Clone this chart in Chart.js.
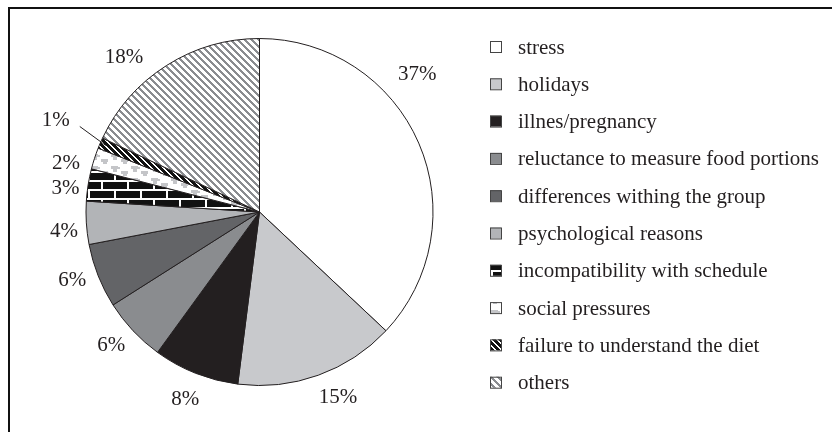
<!DOCTYPE html>
<html lang="en">
<head>
    <meta charset="UTF-8">
    <title>Reasons for dropping out of the diet</title>
    <script src="https://cdn.jsdelivr.net/npm/chart.js"></script>
    <style>
        body {
            margin: 0;
            background: #fff;
        }
        .frame {
            position: absolute;
            left: 8px;
            top: 7px;
            width: 840px;
            height: 440px;
            border-top: 2px solid #111;
            border-left: 2px solid #111;
        }
        .chart-box {
            position: absolute;
            left: 10px;
            top: 9px;
            width: 822px;
            height: 423px;
        }
    </style>
</head>
<body>
    <div class="frame"></div>
    <div class="chart-box">
        <canvas id="pieChart"></canvas>
    </div>

    <script>
        // data
        const categories = [
            'stress',
            'holidays',
            'illnes/pregnancy',
            'reluctance to measure food portions',
            'differences withing the group',
            'psychological reasons',
            'incompatibility with schedule',
            'social pressures',
            'failure to understand the diet',
            'others'
        ];
        const percentages = [37, 15, 8, 6, 6, 4, 3, 2, 1, 18];

        // little tiles for the hatched slices
        function makeTile(w, h, draw) {
            const c = document.createElement('canvas');
            c.width = w;
            c.height = h;
            draw(c.getContext('2d'));
            return c.getContext('2d').createPattern(c, 'repeat');
        }

        const brick = makeTile(26, 18, g => {
            g.fillStyle = '#111';
            g.fillRect(0, 0, 26, 18);
            g.fillStyle = '#fff';
            g.fillRect(0, 0, 26, 2);
            g.fillRect(0, 9, 26, 2);
            g.fillRect(0, 2, 2, 7);
            g.fillRect(13, 11, 2, 7);
        });

        const blotches = makeTile(20, 12, g => {
            g.fillStyle = '#fff';
            g.fillRect(0, 0, 20, 12);
            g.fillStyle = '#c4c5c8';
            g.fillRect(1, 1, 7, 3);
            g.fillRect(3, 3, 4, 4);
            g.fillRect(11, 6, 7, 3);
            g.fillRect(13, 8, 4, 3);
            g.fillRect(8, 2, 2, 2);
        });

        const checker = makeTile(6, 6, g => {
            g.fillStyle = '#111';
            g.fillRect(0, 0, 6, 6);
            g.fillStyle = '#fff';
            for (let i = 0; i < 6; i++) {
                g.fillRect(i, i, 2, 1);
                g.fillRect(i - 6, i, 2, 1);
            }
        });

        const hatch = makeTile(7, 7, g => {
            g.fillStyle = '#fff';
            g.fillRect(0, 0, 7, 7);
            g.fillStyle = '#8a8c90';
            for (let i = 0; i < 7; i++) {
                g.fillRect(i, i, 3, 1);
                g.fillRect(i - 7, i, 3, 1);
            }
        });

        const sliceColors = [
            '#ffffff', '#c8c9cc', '#231f20', '#8a8c8f', '#636467',
            '#b2b4b7', brick, blotches, checker, hatch
        ];

        const serif = '"Liberation Serif", "DejaVu Serif", serif';

        // percent labels just outside each slice, leader line for the tiny one
        const outsideLabels = {
            id: 'outsideLabels',
            afterDatasetsDraw(chart, args, opts) {
                const ctx = chart.ctx;
                const arcs = chart.getDatasetMeta(0).data;
                ctx.save();
                ctx.font = '21px ' + serif;
                ctx.fillStyle = '#231f20';
                ctx.textAlign = 'center';
                ctx.textBaseline = 'middle';
                arcs.forEach((arc, i) => {
                    const p = arc.getProps(['x', 'y', 'startAngle', 'endAngle', 'outerRadius'], true);
                    const mid = (p.startAngle + p.endAngle) / 2 + (opts.nudge[i] || 0);
                    const r = p.outerRadius + 26 + (opts.extra[i] || 0);
                    let lx = p.x + Math.cos(mid) * r;
                    let ly = p.y + Math.sin(mid) * r;
                    if (percentages[i] <= 1) {
                        const ex = p.x + Math.cos(mid) * (p.outerRadius - 6);
                        const ey = p.y + Math.sin(mid) * (p.outerRadius - 6);
                        lx = ex - 50;
                        ly = ey - 25;
                        ctx.strokeStyle = '#231f20';
                        ctx.lineWidth = 1;
                        ctx.beginPath();
                        ctx.moveTo(ex, ey);
                        ctx.lineTo(lx + 24, ly + 6);
                        ctx.stroke();
                    }
                    ctx.fillText(percentages[i] + '%', lx, ly);
                });
                ctx.restore();
            }
        };

        // legend column on the right
        const sideLegend = {
            id: 'sideLegend',
            afterDraw(chart) {
                const ctx = chart.ctx;
                const colors = chart.data.datasets[0].backgroundColor;
                ctx.save();
                ctx.font = '21px ' + serif;
                ctx.textBaseline = 'middle';
                ctx.textAlign = 'left';
                chart.data.labels.forEach((label, i) => {
                    const y = 38 + i * 37.3;
                    ctx.fillStyle = colors[i];
                    ctx.fillRect(480, y - 6, 11, 11);
                    ctx.strokeStyle = '#444';
                    ctx.lineWidth = 1;
                    ctx.strokeRect(480.5, y - 5.5, 11, 11);
                    ctx.fillStyle = '#231f20';
                    ctx.fillText(label, 508, y + 1);
                });
                ctx.restore();
            }
        };

        new Chart(document.getElementById('pieChart'), {
            type: 'pie',
            data: {
                labels: categories,
                datasets: [{
                    data: percentages,
                    backgroundColor: sliceColors,
                    borderColor: '#231f20',
                    borderWidth: 1
                }]
            },
            options: {
                responsive: true,
                maintainAspectRatio: false,
                animation: false,
                layout: {
                    padding: { left: 75, right: 398, top: 29, bottom: 46 }
                },
                plugins: {
                    legend: { display: false },
                    tooltip: { enabled: false },
                    outsideLabels: {
                        nudge: [-0.31, -0.055, 0, 0.02, 0.025, -0.035, -0.035, -0.07, 0, -0.155],
                        extra: [10, 2, 2, 0, 0, -3, -4, 0, 0, 6]
                    }
                }
            },
            plugins: [outsideLabels, sideLegend]
        });
    </script>
</body>
</html>
